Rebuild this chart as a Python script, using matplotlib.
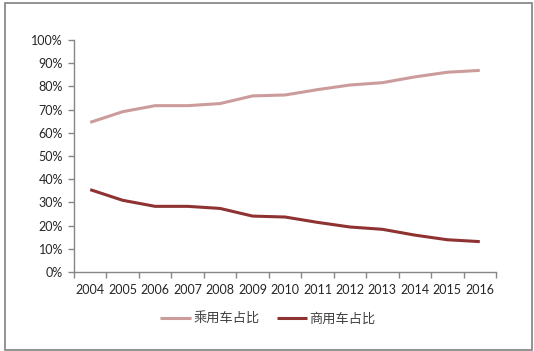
import numpy as np
import matplotlib
matplotlib.use('Agg')
import matplotlib.pyplot as plt
from matplotlib.patches import Rectangle

plt.rcParams['font.family'] = ['Lato', 'Noto Sans CJK SC', 'DejaVu Sans']

years = ['2004', '2005', '2006', '2007', '2008', '2009', '2010',
         '2011', '2012', '2013', '2014', '2015', '2016']
passenger = [64.5, 69.1, 71.7, 71.7, 72.6, 75.9, 76.3,
             78.6, 80.6, 81.6, 84.1, 86.1, 86.9]
commercial = [35.5, 30.9, 28.3, 28.3, 27.4, 24.1, 23.7,
              21.4, 19.4, 18.4, 15.9, 13.9, 13.1]
series_names = ['乘用车占比', '商用车占比']

fig = plt.figure(figsize=(5.34, 3.51), dpi=100)
ax = fig.add_axes([74 / 534, 79 / 351, 422 / 534, 232 / 351])

x = np.arange(len(years))
ax.plot(x, passenger, color='#CC9C9C', lw=2.2, label=series_names[0],
        solid_capstyle='butt')
ax.plot(x, commercial, color='#8E3232', lw=2.2, label=series_names[1],
        solid_capstyle='butt')

ax.set_xlim(-0.5, len(years) - 0.5)
ax.set_ylim(0, 100)
ax.set_yticks(np.arange(0, 101, 10))
ax.set_yticklabels(['{}%'.format(v) for v in range(0, 101, 10)])
ax.set_xticks(x)
ax.set_xticklabels(years)
ax.set_xticks(np.arange(-0.5, len(years), 1), minor=True)
ax.tick_params(axis='x', which='major', length=0, pad=9)
ax.tick_params(axis='x', which='minor', length=4, color='#868686', width=1)
ax.tick_params(axis='y', length=4, color='#868686', width=1, pad=4)
ax.tick_params(labelsize=9, labelcolor='#262626')

for s in ['top', 'right']:
    ax.spines[s].set_visible(False)
for s in ['left', 'bottom']:
    ax.spines[s].set_color('#868686')
    ax.spines[s].set_linewidth(1)

leg = fig.legend(loc='center', bbox_to_anchor=(268 / 534, 1 - 318 / 351),
                 ncol=2, frameon=False, fontsize=9.5, handlelength=2.3,
                 handletextpad=0.2, columnspacing=1.3)
for t in leg.get_texts():
    t.set_color('#404040')

fig.patches.append(Rectangle((5 / 534, 1.5 / 351), 527 / 534, 347 / 351,
                             transform=fig.transFigure, fill=False,
                             edgecolor='#808080', lw=1.2))

fig.savefig('out.png', dpi=100)
